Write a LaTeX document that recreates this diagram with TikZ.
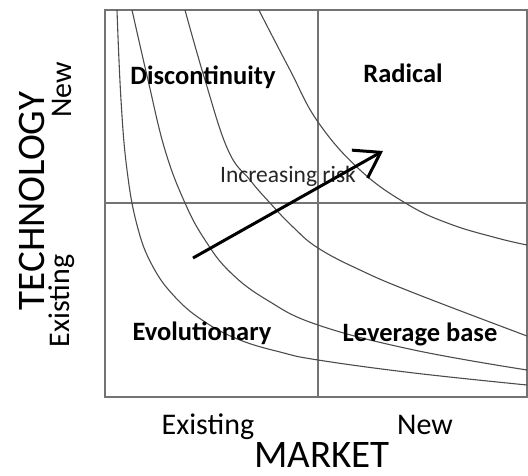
\documentclass[tikz,border=0pt]{standalone}
\usepackage{fontspec}
\setmainfont{Carlito}
\usetikzlibrary{arrows.meta}
\begin{document}
\begin{tikzpicture}[x=1pt,y=-1pt,
  quad/.style={font=\bfseries\fontsize{26.5}{30}\selectfont, anchor=base, inner sep=0pt},
  small/.style={font=\fontsize{23.5}{27}\selectfont, anchor=base, inner sep=0pt, text=black!85},
  axislab/.style={font=\fontsize{30}{34}\selectfont, anchor=base, inner sep=0pt},
  axtitle/.style={font=\fontsize{39}{44}\selectfont, anchor=base, inner sep=0pt},
  curve/.style={draw=black!70, line width=1.1pt},
  frame/.style={draw=black!55, line width=1.6pt},
  riskarrow/.style={draw=black, line width=3pt, -{Straight Barb[length=24pt,width=32pt]}}]
\useasboundingbox (0,0) rectangle (528,476);
% frame and quadrant lines
\draw[frame] (105,10) rectangle (527,397);
\draw[frame] (318,10) -- (318,397);
\draw[frame] (105,203) -- (527,203);
% risk curves
\draw[curve] plot[smooth, tension=0.7] coordinates {(117,10) (121,100) (127,170) (137,225) (152,265) (175,297) (205,322) (240,340) (280,352) (318,360) (414,373) (527,385)};
\draw[curve] plot[smooth, tension=0.7] coordinates {(132,10) (148,80) (165,150) (185,203) (205,240) (230,272) (267,300) (318,325) (414,350) (527,370)};
\draw[curve] plot[smooth, tension=0.7] coordinates {(185,10) (205,80) (228,150) (250,180) (270,203) (293,227) (318,248) (360,270) (414,293) (527,336)};
\draw[curve] plot[smooth, tension=0.7] coordinates {(259,10) (264,20) (290,70) (318,122) (360,170) (407,204) (450,224) (497,238) (527,245)};
% quadrant labels
\node[quad] (disc) at (203,85) {Discontinuity};
\node[quad] (rad) at (403,83) {Radical};
\node[quad] (evo) at (202,340) {Evolutionary};
\node[quad] (lev) at (420,341) {Leverage base};
% arrow
\node[small] (risk) at (288,183) {Increasing risk};
\coordinate (arrS) at (193,258);
\coordinate (arrE) at (383,151);
\draw[riskarrow] (arrS) -- (arrE);
% axis labels
\node[axislab] (mex) at (208,434) {Existing};
\node[axislab] (mnew) at (425,434) {New};
\node[axtitle] (market) at (322,467) {MARKET};
\node[axislab, rotate=90] (tnew) at (71,90) {New};
\node[axislab, rotate=90] (tex) at (69,301) {Existing};
\node[axtitle, rotate=90] (tech) at (44,201) {TECHNOLOGY};
\end{tikzpicture}
\end{document}
